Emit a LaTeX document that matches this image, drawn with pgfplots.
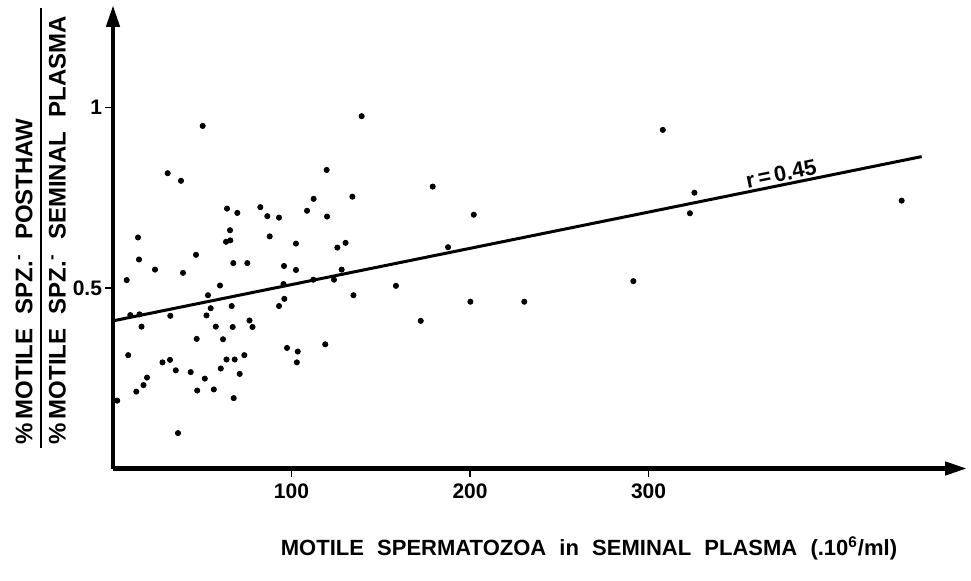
\documentclass[border=0pt]{standalone}
\usepackage{pgfplots}
\pgfplotsset{compat=1.18}
\usepackage{pgfplotstable}
\usepackage{fontspec}
\setmainfont{Liberation Sans}
\usetikzlibrary{arrows.meta}

\pgfplotstableread{
x y
50.25 0.949
30.64 0.818
38.10 0.797
63.87 0.720
69.64 0.708
82.52 0.724
86.44 0.699
93.0 0.695
65.55 0.660
14.0 0.640
63.31 0.628
65.71 0.632
87.79 0.643
102.5 0.623
14.57 0.579
46.50 0.592
67.39 0.569
75.24 0.569
95.80 0.561
102.5 0.550
23.53 0.551
39.22 0.542
7.68 0.522
59.94 0.507
95.52 0.511
139.3 0.976
119.7 0.827
112.4 0.747
134.1 0.753
108.7 0.714
119.9 0.698
125.7 0.612
130.3 0.625
128.1 0.551
179.1 0.781
202.1 0.703
187.7 0.613
112.2 0.523
123.8 0.523
158.5 0.506
134.7 0.480
95.97 0.470
93.0 0.450
172.4 0.409
200.2 0.462
230.4 0.462
97.48 0.334
103.5 0.324
103.0 0.294
118.9 0.344
308.0 0.938
325.7 0.764
323.2 0.707
441.8 0.742
291.5 0.519
53.22 0.480
9.69 0.425
14.85 0.427
32.10 0.423
52.38 0.424
54.73 0.444
66.50 0.450
15.97 0.393
57.59 0.393
67.06 0.392
76.47 0.410
78.15 0.392
46.89 0.359
61.62 0.358
8.52 0.314
27.73 0.294
31.93 0.301
35.18 0.272
43.53 0.267
63.59 0.302
68.18 0.302
73.56 0.314
60.39 0.277
70.98 0.262
19.05 0.252
17.09 0.231
13.05 0.213
51.43 0.249
47.17 0.216
56.47 0.219
67.62 0.195
2.35 0.188
36.41 0.098
}\pts

\begin{document}
\begin{tikzpicture}
\path[use as bounding box] (-56.5bp,-56.25bp) rectangle (429bp,234.25bp);
\begin{axis}[
  scale only axis, width=427bp, height=231.75bp,
  xmin=0, xmax=478.4, ymin=0, ymax=1.284,
  axis lines=left,
  axis line style={line width=2.25bp, black},
  every outer x axis line/.append style={-{Triangle[length=11bp,width=6.5bp]}},
  every outer y axis line/.append style={-{Triangle[length=11bp,width=6.5bp]}},
  xtick={100,200,300}, ytick={0.5,1}, yticklabels={0.5,1},
  tick align=outside, major tick length=4bp,
  tick style={line width=0.8bp, black},
  /pgf/number format/assume math mode=true,
  ticklabel style={font=\fontsize{10.5bp}{12bp}\selectfont\bfseries},
  yticklabel style={xshift=2bp},
  clip=false,
]
\addplot[only marks, mark=*, mark size=1.3bp, black] table {\pts};
\addplot[black, line width=1.5bp] coordinates {(0,0.409) (453,0.864)};
\node[rotate=11.5, anchor=south, font=\fontsize{11bp}{13bp}\selectfont\bfseries, inner sep=1.5bp] at (axis cs:375.5,0.786) {r\,=\,0.45};
\end{axis}
\node[anchor=center, font=\fontsize{11bp}{13bp}\selectfont\bfseries] at (238bp,-39.75bp)
  {MOTILE\hspace{0.6em}SPERMATOZOA\hspace{0.6em}in\hspace{0.6em}SEMINAL\hspace{0.6em}PLASMA\hspace{0.6em}(.10\textsuperscript{6}/ml)};
\node[rotate=90, anchor=base west, inner sep=0pt, font=\fontsize{12bp}{14bp}\selectfont\bfseries] at (-40.3bp,11.75bp)
  {\%\,MOTILE\hspace{0.6em}SPZ.\textsuperscript{-}\hspace{0.6em}POSTHAW};
\node[rotate=90, anchor=base west, inner sep=0pt, font=\fontsize{12bp}{14bp}\selectfont\bfseries] at (-23.7bp,11.75bp)
  {\%\,MOTILE\hspace{0.6em}SPZ.\textsuperscript{-}\hspace{0.6em}SEMINAL\hspace{0.6em}PLASMA};
\draw[line width=1bp] (-36bp,10.25bp) -- (-36bp,230.25bp);
\end{tikzpicture}
\end{document}
